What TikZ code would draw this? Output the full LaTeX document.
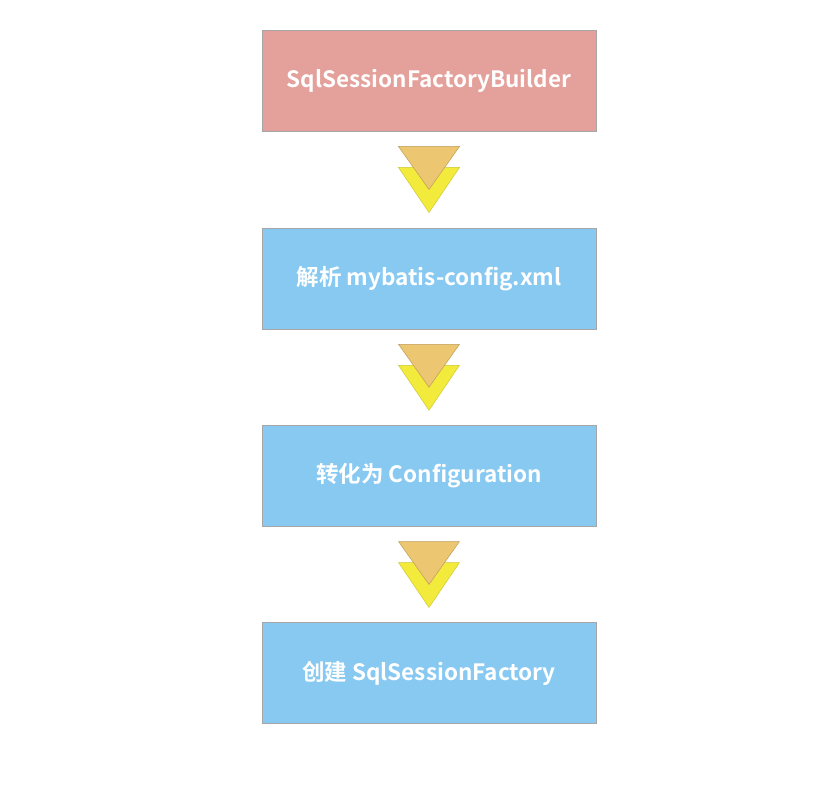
\documentclass[tikz,border=0pt]{standalone}
\usepackage{fontspec}
\setmainfont{Noto Sans CJK SC}[BoldFont={Noto Sans CJK SC Bold}]
\usepackage{xcolor}
\usetikzlibrary{calc}

\definecolor{builderred}{HTML}{E4A09A}
\definecolor{stepblue}{HTML}{88C9F1}
\definecolor{chevorange}{HTML}{ECC670}
\definecolor{chevyellow}{HTML}{F3EB3C}

\tikzset{
    stage/.style={draw=gray!70, line width=0.8pt, minimum width=334pt, minimum height=101pt,
        text=white, font=\bfseries\fontsize{22.5}{27}\selectfont},
    chevtop/.style={fill=chevorange, draw=chevorange!80!black, line width=0.5pt},
    chevlow/.style={fill=chevyellow, draw=chevyellow!85!black, line width=0.5pt}
}

\begin{document}
\begin{tikzpicture}[x=1pt, y=-1pt]
        \fill[white] (0,0) rectangle (838,786);
        \useasboundingbox (0,0) rectangle (838,786);

        \node[stage, fill=builderred] (builder) at (429, 80.5) {SqlSessionFactoryBuilder};
        \node[stage, fill=stepblue] (parse) at (429, 278.5) {解析 mybatis-config.xml};
        \node[stage, fill=stepblue] (convert) at (429, 476) {转化为 Configuration};
        \node[stage, fill=stepblue] (create) at (429, 673) {创建 SqlSessionFactory};

        % double chevrons between the stages
        \foreach \a/\b in {builder/parse, parse/convert, convert/create} {
            \path (\a.south) -- (\b.north) coordinate[midway] (mid);
            \filldraw[chevlow] ($(mid)+(-30.5,-12)$) -- ($(mid)+(30.5,-12)$) -- ($(mid)+(0,33)$) -- cycle;
            \filldraw[chevtop] ($(mid)+(-30.5,-33)$) -- ($(mid)+(30.5,-33)$) -- ($(mid)+(0,10)$) -- cycle;
        }
    \end{tikzpicture}
\end{document}
